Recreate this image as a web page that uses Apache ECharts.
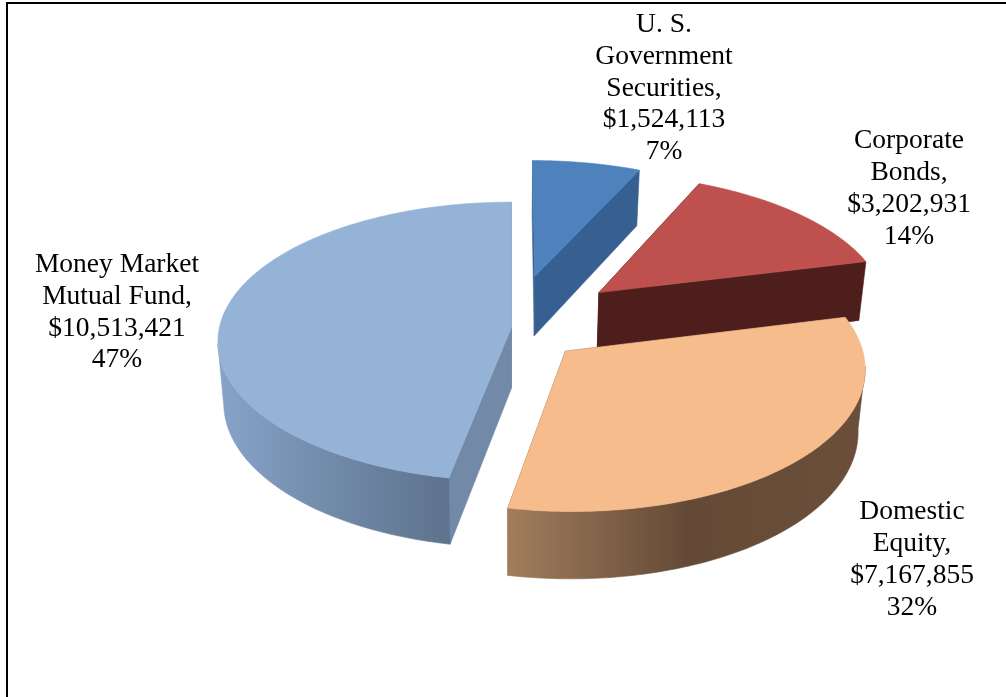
<!DOCTYPE html>
<html>
<head>
<meta charset="utf-8">
<style>html,body{margin:0;padding:0;background:#fff}#c{width:1006px;height:697px}</style>
<script src="https://cdn.jsdelivr.net/npm/echarts@6/dist/echarts.min.js"></script>
</head>
<body>
<div id="c"></div>
<script>
// ---- data ----
const categories = ['U. S.\nGovernment\nSecurities,', 'Corporate\nBonds,', 'Domestic\nEquity,', 'Money Market\nMutual Fund,'];
const values = [1524113, 3202931, 7167855, 10513421];

// ---- styling / layout ----
const topColors = ['#4F81BD', '#BE504D', '#F7BC8B', '#95B3D7'];
const cutColors = ['#376092', '#4D1E1C', '#644A36', '#728AA8'];
const rimStops = [
  ['#376092', '#376092'],
  ['#4D1E1C', '#4D1E1C'],
  ['#A27D5D', '#644A36', '#6B4F3A'],
  ['#86A3C7', '#7089A8', '#5E738D']
];
const rimRange = [[533, 640], [600, 866], [507, 866], [223, 448]];
const explode = [0.39, 0.40, 0.25, 0];
const paintOrder = [0, 10, 30, 20];
const labelAnchor = [[664, 24.5], [909, 141], [912, 512], [117, 264.5]];
const labelLine = 31.9;
const view = { cx: 511.5, cy: 327, a: 292, b: 138, p: 0.105 };

const total = values.reduce((s, v) => s + v, 0);
const money = v => '$' + v.toLocaleString('en-US');

function project(X, Y) {
  const w = 1 + view.p * Y;
  return [view.cx + view.a * X / w, view.cy - view.b * Y / w];
}
function drop(pt) {
  return [512 + (pt[0] - 512) * 0.98, pt[1] + 50 + 0.034 * pt[1]];
}

function renderSlice(params, api) {
  const i = params.dataIndex;
  const val = api.value(0);
  let before = 0;
  for (let k = 0; k < i; k++) before += values[k];
  const t0 = before / total * 2 * Math.PI;
  const t1 = (before + val) / total * 2 * Math.PI;
  const mid = (t0 + t1) / 2;
  const ox = explode[i] * Math.sin(mid), oy = explode[i] * Math.cos(mid);
  const apex = project(ox, oy);
  const arc = [];
  const wallTop = [];
  const steps = 120;
  for (let s = 0; s <= steps; s++) {
    const t = t0 + (t1 - t0) * s / steps;
    const pt = project(ox + Math.sin(t), oy + Math.cos(t));
    arc.push(pt);
    // the outer wall starts where the rim turns towards the viewer
    if (Math.cos(t) < -view.p) wallTop.push(pt);
  }
  const lowArc = arc.map(drop);
  const lowApex = drop(apex);
  const z = paintOrder[i];
  const stops = rimStops[i];
  const rimFill = {
    type: 'linear', global: true,
    x: rimRange[i][0], y: 0, x2: rimRange[i][1], y2: 0,
    colorStops: stops.map((c, n) => ({ offset: n / (stops.length - 1), color: c }))
  };
  const poly = (points, fill, z2) => ({
    type: 'polygon', z2: z2, silent: true,
    shape: { points: points },
    style: { fill: fill, stroke: fill, lineWidth: 0.6 }
  });
  const children = [
    poly([apex, arc[0], lowArc[0], lowApex], cutColors[i], z),
    poly([apex, arc[steps], lowArc[steps], lowApex], cutColors[i], z + 1)
  ];
  if (wallTop.length > 1) {
    children.push(poly(wallTop.concat(wallTop.map(drop).reverse()), rimFill, z + 2));
  }
  children.push(poly([apex].concat(arc), topColors[i], z + 3));
  const pct = Math.round(val / total * 100) + '%';
  const text = categories[i] + '\n' + money(val) + '\n' + pct;
  children.push({
    type: 'text', z2: 50, silent: true,
    x: labelAnchor[i][0], y: labelAnchor[i][1] - labelLine / 2,
    style: {
      text: text, fill: '#000', align: 'center', verticalAlign: 'top',
      font: '27.5px "Liberation Serif"', lineHeight: labelLine
    }
  });
  return { type: 'group', children: children };
}

const chart = echarts.init(document.getElementById('c'), null, { renderer: 'canvas' });
chart.setOption({
  animation: false,
  backgroundColor: '#fff',
  graphic: [
    { type: 'polyline', silent: true, shape: { points: [[7, 697], [7, 3], [1006, 3]] },
      style: { fill: 'none', stroke: '#000', lineWidth: 2 } }
  ],
  series: [{
    type: 'custom',
    coordinateSystem: 'none',
    renderItem: renderSlice,
    data: values.map((v, i) => ({ name: categories[i].replace(/\n/g, ' '), value: [v] }))
  }]
});
</script>
</body>
</html>
